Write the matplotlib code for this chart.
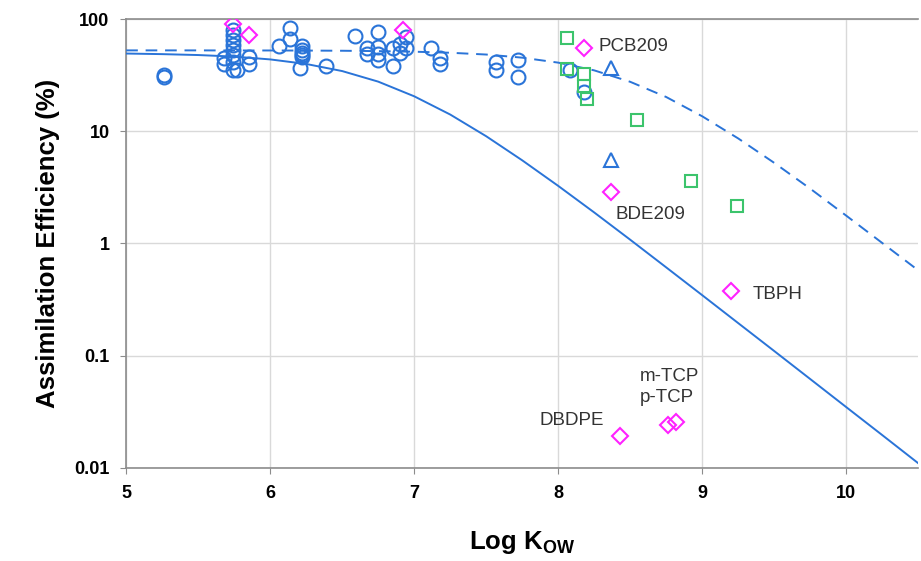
import matplotlib
matplotlib.use("Agg")
import matplotlib.pyplot as plt
from matplotlib.ticker import FixedLocator, FixedFormatter, NullLocator

plt.rcParams['font.family'] = ['Liberation Sans', 'DejaVu Sans']
plt.rcParams['mathtext.fontset'] = 'custom'
plt.rcParams['mathtext.bf'] = 'Liberation Sans:bold'

# model curves
curve_x = [5.0, 5.25, 5.5, 5.75, 6.0, 6.25, 6.5, 6.75, 7.0, 7.25, 7.5, 7.75,
           8.0, 8.25, 8.5, 8.75, 9.0, 9.25, 9.5, 9.75, 10.0, 10.25, 10.5]
solid_y = [49.3, 48.7, 47.8, 46.3, 43.7, 39.8, 34.4, 27.7, 20.5, 14.1, 9.03, 5.51,
           3.26, 1.89, 1.08, 0.612, 0.346, 0.195, 0.110, 0.0619, 0.0348, 0.0196, 0.0110]
dashed_y = [52.6, 52.6, 52.6, 52.5, 52.5, 52.4, 52.2, 51.8, 51.2, 50.1, 48.3, 45.3,
            40.9, 34.9, 27.6, 20.2, 13.6, 8.63, 5.23, 3.08, 1.77, 1.01, 0.576]

# blue circles
circle_x = [5.26, 5.26, 5.68, 5.68, 5.74, 5.74, 5.74, 5.74, 5.74, 5.74, 5.74, 5.74,
            5.77, 5.85, 5.85, 6.06, 6.14, 6.14, 6.22, 6.22, 6.22, 6.22, 6.22, 6.21,
            6.39, 6.59, 6.67, 6.67, 6.75, 6.75, 6.75, 6.75, 6.85, 6.85, 6.90, 6.90,
            6.94, 6.94, 7.12, 7.18, 7.18, 7.57, 7.57, 7.72, 7.72, 8.08, 8.18]
circle_y = [32, 30.5, 45, 39.7, 80, 72, 65, 58.6, 53, 47.7, 41.4, 35,
            35, 45.9, 39.7, 57.4, 83, 66, 58, 53, 50, 48, 46, 36.6,
            38, 70.7, 55, 48.7, 76.6, 56.3, 48.7, 43, 55.3, 38, 49.8, 60,
            69, 55, 55, 45, 40, 41.4, 35, 43, 30.5, 35, 22.4]

# magenta diamonds
diamond_x = [5.74, 5.85, 6.92, 8.18, 8.37, 9.20, 8.43, 8.76, 8.82]
diamond_y = [90, 72, 80, 55, 2.88, 0.377, 0.0193, 0.0242, 0.0257]

# green squares
square_x = [8.06, 8.06, 8.18, 8.18, 8.20, 8.55, 8.92, 9.24]
square_y = [67.8, 35.9, 32.4, 25.3, 19.4, 12.6, 3.6, 2.16]

# blue triangles
triangle_x = [8.37, 8.37]
triangle_y = [36.6, 5.5]

labels = ['PCB209', 'BDE209', 'TBPH', 'DBDPE', 'm-TCP', 'p-TCP']
label_x = [8.28, 8.40, 9.35, 7.87, 8.57, 8.57]
label_y = [57.4, 1.83, 0.348, 0.0262, 0.0647, 0.042]

y_ticks = [0.01, 0.1, 1, 10, 100]
y_tick_labels = ['0.01', '0.1', '1', '10', '100']
x_ticks = [5, 6, 7, 8, 9, 10]

BLUE = '#2a74d8'
MAGENTA = '#ff22ff'
GREEN = '#3cc46c'
GRAY = '#8c8c8c'

fig = plt.figure(figsize=(9.21, 5.61), dpi=100)
ax = fig.add_axes([0.137, 0.166, 0.860, 0.800])

ax.plot(curve_x, solid_y, color=BLUE, lw=1.4, zorder=3)
ax.plot(curve_x, dashed_y, color=BLUE, lw=1.4, dashes=(6, 4), zorder=3)

ax.plot(circle_x, circle_y, 'o', ms=10, mfc='none', mec=BLUE, mew=1.5, zorder=4)
ax.plot(square_x, square_y, 's', ms=8.5, mfc='none', mec=GREEN, mew=1.5, zorder=4)
ax.plot(triangle_x, triangle_y, '^', ms=9.5, mfc='none', mec=BLUE, mew=1.5, zorder=4)
ax.plot(diamond_x, diamond_y, 'D', ms=8.5, mfc='none', mec=MAGENTA, mew=1.5, zorder=5)

for t, lx, ly in zip(labels, label_x, label_y):
    ax.text(lx, ly, t, fontsize=13.5, color='#333333', ha='left', va='center', zorder=6)

ax.set_yscale('log')
ax.set_xlim(5, 10.5)
ax.set_ylim(0.01, 100)
ax.yaxis.set_major_locator(FixedLocator(y_ticks))
ax.yaxis.set_major_formatter(FixedFormatter(y_tick_labels))
ax.yaxis.set_minor_locator(NullLocator())
ax.xaxis.set_major_locator(FixedLocator(x_ticks))

ax.grid(True, color='#d9d9d9', lw=1.0, zorder=0)
ax.set_axisbelow(True)
for side in ['left', 'bottom', 'top']:
    ax.spines[side].set_color(GRAY)
    ax.spines[side].set_linewidth(1.2)
ax.spines['right'].set_visible(False)
ax.tick_params(axis='both', direction='out', length=4, color=GRAY, labelsize=13,
               labelcolor='black', pad=8)
for lab in ax.get_xticklabels() + ax.get_yticklabels():
    lab.set_fontweight('bold')

ax.set_ylabel('Assimilation Efficiency (%)', fontsize=18.5, fontweight='bold', labelpad=10)
ax.set_xlabel(r'Log K$_{\mathbf{OW}}$', fontsize=18.5, fontweight='bold', labelpad=20)

fig.savefig('out.png', dpi=100)
